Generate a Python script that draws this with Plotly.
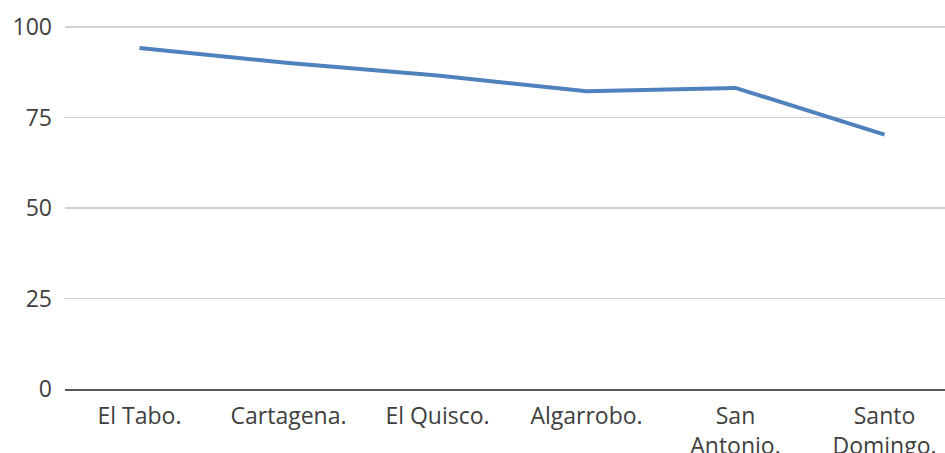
import plotly.graph_objects as go

categories = ["El Tabo.", "Cartagena.", "El Quisco.", "Algarrobo.", "San<br>Antonio.", "Santo<br>Domingo."]
values = [94.2, 90.1, 86.6, 82.3, 83.2, 70.3]
y_ticks = [0, 25, 50, 75, 100]

fig = go.Figure()
fig.add_trace(go.Scatter(
    x=list(range(len(categories))), y=values, mode="lines",
    line=dict(color="#4F81BD", width=4),
    hoverinfo="skip",
))

font = dict(family="Open Sans", size=23, color="#404040")
fig.update_layout(
    width=945, height=453,
    margin=dict(l=65, r=0, t=26, b=64),
    paper_bgcolor="white", plot_bgcolor="white",
    showlegend=False,
    font=font,
    xaxis=dict(
        tickmode="array", tickvals=list(range(len(categories))), ticktext=categories,
        range=[-0.5, 5.406], showgrid=False, zeroline=False,
        showline=True, linecolor="#595959", linewidth=2,
        ticks="", tickfont=font, ticklabelstandoff=5, automargin=False,
    ),
    yaxis=dict(
        range=[0, 100.3], tickvals=y_ticks, showgrid=True, gridcolor="#D0D0D0", gridwidth=1.6,
        zeroline=False, showline=False, ticks="", tickfont=font, ticklabelstandoff=12,
        automargin=False,
    ),
)
fig.write_html(
    "out.html",
    config={"displayModeBar": False, "staticPlot": True},
    post_script="document.body.style.margin='0';document.body.style.overflow='hidden';",
)
